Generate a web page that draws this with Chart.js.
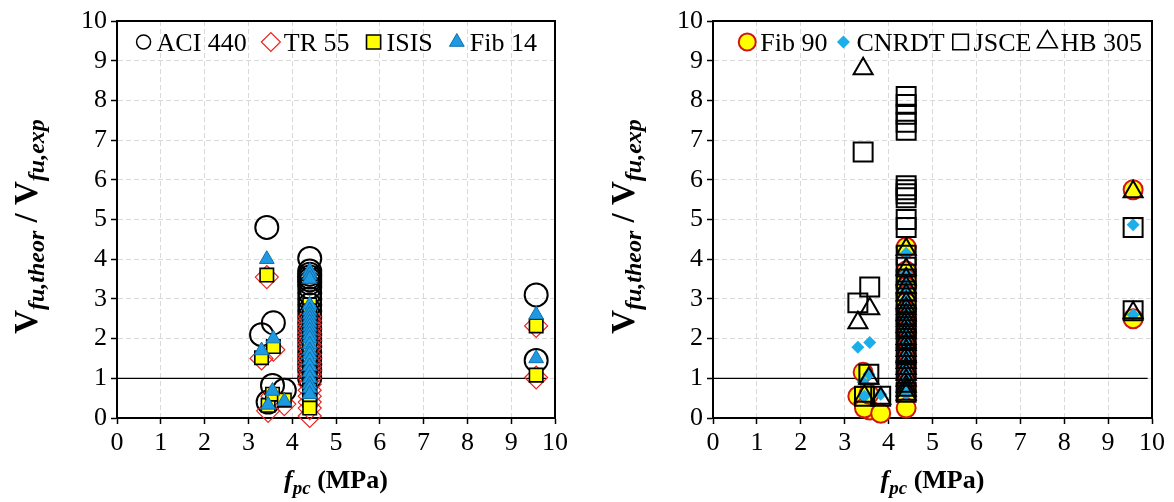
<!DOCTYPE html>
<html>
<head>
<meta charset="utf-8">
<script src="https://cdn.jsdelivr.net/npm/chart.js@4/dist/chart.umd.min.js"></script>
<style>
  body { margin: 0; background: #fff; }
  .wrap { display: flex; width: 1174px; height: 502px; }
  .box { width: 587px; height: 502px; }
</style>
</head>
<body>
<div class="wrap">
  <div class="box"><canvas id="leftChart" width="587" height="502"></canvas></div>
  <div class="box"><canvas id="rightChart" width="587" height="502"></canvas></div>
</div>
<script>
// f'pc of every specimen (MPa)
const fpc = [3.42, 3.30, 3.57, 3.45, 3.55, 3.82,
  4.4, 4.4, 4.4, 4.4, 4.4, 4.4, 4.4, 4.4, 4.4, 4.4, 4.4,
  4.4, 4.4, 4.4, 4.4, 4.4, 4.4, 4.4, 4.4, 4.4, 4.4, 4.4,
  9.57, 9.57];

// Vfu,theor / Vfu,exp per model, same specimen order as fpc
const aci440 = [4.8, 2.1, 2.4, 0.4, 0.82, 0.7,
  4.02, 3.7, 3.62, 3.55, 3.48, 3.4, 3.3, 3.15, 3.0, 2.85, 2.7,
  2.55, 2.4, 2.25, 2.1, 1.95, 1.8, 1.65, 1.5, 1.35, 1.2, 1.0,
  3.1, 1.45];
const tr55 = [3.55, 1.5, 1.72, 0.18, 0.55, 0.35,
  2.55, 2.45, 2.35, 2.25, 2.15, 2.05, 1.95, 1.85, 1.75, 1.6, 1.5,
  1.4, 1.3, 1.2, 1.1, 1.0, 0.85, 0.7, 0.55, 0.4, 0.25, 0.05,
  2.32, 1.02];
const isis = [3.6, 1.52, 1.8, 0.32, 0.6, 0.45,
  2.85, 2.7, 2.6, 2.5, 2.4, 2.3, 2.2, 2.1, 2.0, 1.9, 1.75,
  1.6, 1.5, 1.4, 1.25, 1.15, 1.0, 0.85, 0.7, 0.55, 0.45, 0.25,
  2.32, 1.08];
const fib14 = [4.0, 1.7, 2.0, 0.33, 0.68, 0.42,
  3.7, 3.6, 3.5, 2.85, 2.7, 2.6, 2.5, 2.4, 2.3, 2.2, 2.1,
  2.0, 1.85, 1.7, 1.6, 1.45, 1.3, 1.15, 1.0, 0.85, 0.75, 0.6,
  2.6, 1.5];
const fib90 = [1.15, 0.55, 0.2, 0.25, 0.6, 0.12,
  4.3, 3.7, 3.5, 3.3, 3.1, 2.9, 2.7, 2.5, 2.35, 2.2, 2.05,
  1.9, 1.75, 1.6, 1.45, 1.3, 1.15, 1.0, 0.85, 0.7, 0.55, 0.25,
  5.75, 2.5];
const cnrdt = [0.9, 1.78, 1.9, 0.55, 1.1, 0.6,
  4.15, 3.65, 3.4, 3.2, 3.0, 2.8, 2.6, 2.45, 2.3, 2.15, 2.0,
  1.85, 1.7, 1.55, 1.4, 1.25, 1.1, 0.95, 0.8, 0.7, 0.65, 0.6,
  4.87, 2.6];
const jsce = [6.7, 2.9, 3.3, 0.55, 1.1, 0.55,
  8.1, 7.9, 7.65, 7.45, 7.25, 5.85, 5.75, 5.65, 5.55, 5.0, 4.8,
  4.1, 3.8, 3.5, 3.2, 2.9, 2.6, 2.3, 2.0, 1.6, 1.2, 0.65,
  4.8, 2.7];
const hb305 = [8.8, 2.4, 2.75, 0.55, 1.0, 0.5,
  4.25, 3.75, 3.5, 3.3, 3.1, 2.9, 2.75, 2.6, 2.45, 2.3, 2.15,
  2.0, 1.85, 1.7, 1.55, 1.4, 1.25, 1.1, 0.95, 0.8, 0.7, 0.6,
  5.7, 2.65];

const axisTicks = [0, 1, 2, 3, 4, 5, 6, 7, 8, 9, 10];
const unityX = [0, 9.8];
const unityY = [1, 1];

const SERIF = "'Liberation Serif', 'Times New Roman', serif";
const YELLOW = '#ffff00';
const BLUE = '#1f9ae0';

const pts = ys => ys.map((y, i) => ({ x: fpc[i], y }));

function unityLine(xEnd) {
  return {
    type: 'line',
    data: unityX.map((x, i) => ({ x: i ? xEnd : x, y: unityY[i] })),
    showLine: true, pointRadius: 0, borderColor: '#000', borderWidth: 1.2,
    order: 10, clip: false
  };
}

// draws a point marker with the library's own shape helper
function marker(ctx, m, x, y) {
  ctx.save();
  ctx.fillStyle = m.fill;
  ctx.strokeStyle = m.stroke;
  ctx.lineWidth = m.lw;
  Chart.helpers.drawPoint(ctx, { pointStyle: m.style, radius: m.r, borderWidth: m.lw, rotation: 0 }, x, y);
  ctx.restore();
}

// text made of runs with their own font and baseline shift (subscripts)
function richText(ctx, runs, cx, cy, angle) {
  ctx.save();
  ctx.translate(cx, cy);
  ctx.rotate(angle);
  ctx.fillStyle = '#000';
  ctx.textBaseline = 'alphabetic';
  let total = 0;
  runs.forEach(r => { ctx.font = r.font; r.w = ctx.measureText(r.t).width; total += r.w; });
  let x = -total / 2;
  runs.forEach(r => { ctx.font = r.font; ctx.fillText(r.t, x, r.dy || 0); x += r.w; });
  ctx.restore();
}

const yTitle = [
  { t: 'V', font: 'bold 33px ' + SERIF },
  { t: 'fu,theor', font: 'bold italic 24px ' + SERIF, dy: 7 },
  { t: ' / ', font: 'bold 33px ' + SERIF },
  { t: 'V', font: 'bold 33px ' + SERIF },
  { t: 'fu,exp', font: 'bold italic 24px ' + SERIF, dy: 7 }
];
const xTitle = [
  { t: 'f', font: 'bold italic 26px ' + SERIF },
  { t: 'pc', font: 'bold italic 19px ' + SERIF, dy: 6 },
  { t: ' (MPa)', font: 'bold 26px ' + SERIF }
];

const framePlugin = {
  id: 'frame',
  beforeDatasetsDraw(chart) {
    const { ctx, chartArea: a } = chart;
    ctx.save();
    ctx.strokeStyle = '#000';
    ctx.lineWidth = 2;
    ctx.strokeRect(a.left, a.top, a.right - a.left, a.bottom - a.top);
    ctx.restore();
  },
  afterDraw(chart, args, opts) {
    const { ctx, chartArea: a } = chart;
    // axis titles
    richText(ctx, yTitle, opts.yTitleX, (a.top + a.bottom) / 2 + 7, -Math.PI / 2);
    richText(ctx, xTitle, (a.left + a.right) / 2, 488, 0);
    // legend inside the plot, right aligned
    ctx.save();
    ctx.font = '26px ' + SERIF;
    ctx.fillStyle = '#000';
    ctx.textBaseline = 'alphabetic';
    const items = opts.legend;
    const widths = items.map(it => ctx.measureText(it.label).width);
    let width = 0;
    items.forEach((it, i) => { width += opts.toText + widths[i] + (i ? opts.gap : 0); });
    let x = a.right - opts.endPad - width;
    const y = a.top + 21;
    items.forEach((it, i) => {
      if (i) x += opts.gap;
      marker(ctx, it, x, y);
      ctx.fillText(it.label, x + opts.toText, y + 9);
      x += opts.toText + widths[i];
    });
    ctx.restore();
  }
};

function axis(width, height) {
  return {
    type: 'linear', min: 0, max: 10,
    afterBuildTicks: s => { s.ticks = axisTicks.map(v => ({ value: v })); },
    afterFit: s => { if (width) s.width = width; if (height) s.height = height; },
    ticks: { color: '#000', font: { family: SERIF, size: 26 }, padding: width ? 4 : 4 },
    grid: { color: '#d9d9d9', lineWidth: 1, tickLength: 6, tickColor: '#000', tickWidth: 1.5, tickBorderDash: [] },
    border: { display: true, color: '#000', width: 2, dash: [5, 3] }
  };
}

function makeChart(id, datasets, frame, yWidth, rightPad, lineEnd) {
  datasets.forEach(d => { d.clip = false; d.pointHoverRadius = d.pointRadius; });
  return new Chart(document.getElementById(id), {
    type: 'scatter',
    data: { datasets: [unityLine(lineEnd)].concat(datasets) },
    options: {
      responsive: false,
      animation: false,
      layout: { padding: { top: 21, right: rightPad, bottom: 0, left: 0 } },
      plugins: { legend: { display: false }, tooltip: { enabled: false }, frame },
      scales: { x: axis(0, 84), y: axis(yWidth, 0) }
    },
    plugins: [framePlugin]
  });
}

// left panel: ACI 440, TR 55, ISIS, Fib 14
makeChart('leftChart', [
  { label: 'ACI 440', data: pts(aci440), pointStyle: 'circle', pointRadius: 11.5,
    backgroundColor: 'rgba(0,0,0,0)', borderColor: '#000', borderWidth: 2, order: 4 },
  { label: 'TR 55', data: pts(tr55), pointStyle: 'rectRot', pointRadius: 11.5,
    backgroundColor: 'rgba(0,0,0,0)', borderColor: '#e8251f', borderWidth: 1.2, order: 3 },
  { label: 'ISIS', data: pts(isis), pointStyle: 'rect', pointRadius: 9.5,
    backgroundColor: YELLOW, borderColor: '#000', borderWidth: 1.6, order: 2 },
  { label: 'Fib 14', data: pts(fib14), pointStyle: 'triangle', pointRadius: 8.5,
    backgroundColor: BLUE, borderColor: '#0d6fb0', borderWidth: 1, order: 1 }
], {
  yTitleX: 37, endPad: 18, toText: 13, gap: 24,
  legend: [
    { label: 'ACI 440', style: 'circle', r: 7, fill: 'rgba(0,0,0,0)', stroke: '#000', lw: 1.5 },
    { label: 'TR 55', style: 'rectRot', r: 9.5, fill: 'rgba(0,0,0,0)', stroke: '#e8251f', lw: 1.2 },
    { label: 'ISIS', style: 'rect', r: 10, fill: YELLOW, stroke: '#000', lw: 1.6 },
    { label: 'Fib 14', style: 'triangle', r: 8.5, fill: BLUE, stroke: '#0d6fb0', lw: 1 }
  ]
}, 117, 32, 9.8);

// right panel: Fib 90, CNRDT, JSCE, HB 305
makeChart('rightChart', [
  { label: 'Fib 90', data: pts(fib90), pointStyle: 'circle', pointRadius: 9.5,
    backgroundColor: YELLOW, borderColor: '#d41414', borderWidth: 2, order: 4 },
  { label: 'CNRDT', data: pts(cnrdt), pointStyle: 'rectRot', pointRadius: 6.5,
    backgroundColor: '#1aafea', borderColor: '#1aafea', borderWidth: 0, order: 3 },
  { label: 'JSCE', data: pts(jsce), pointStyle: 'rect', pointRadius: 13.4,
    backgroundColor: 'rgba(0,0,0,0)', borderColor: '#000', borderWidth: 2, order: 2 },
  { label: 'HB 305', data: pts(hb305), pointStyle: 'triangle', pointRadius: 11,
    backgroundColor: 'rgba(0,0,0,0)', borderColor: '#000', borderWidth: 2, order: 1 }
], {
  yTitleX: 47, endPad: 10, toText: 13, gap: 16,
  legend: [
    { label: 'Fib 90', style: 'circle', r: 8.5, fill: YELLOW, stroke: '#d41414', lw: 2 },
    { label: 'CNRDT', style: 'rectRot', r: 6.5, fill: '#1aafea', stroke: '#1aafea', lw: 0 },
    { label: 'JSCE', style: 'rect', r: 11, fill: 'rgba(0,0,0,0)', stroke: '#000', lw: 1.6 },
    { label: 'HB 305', style: 'triangle', r: 11.5, fill: 'rgba(0,0,0,0)', stroke: '#000', lw: 1.6 }
  ]
}, 126, 22, 9.9);
</script>
</body>
</html>
